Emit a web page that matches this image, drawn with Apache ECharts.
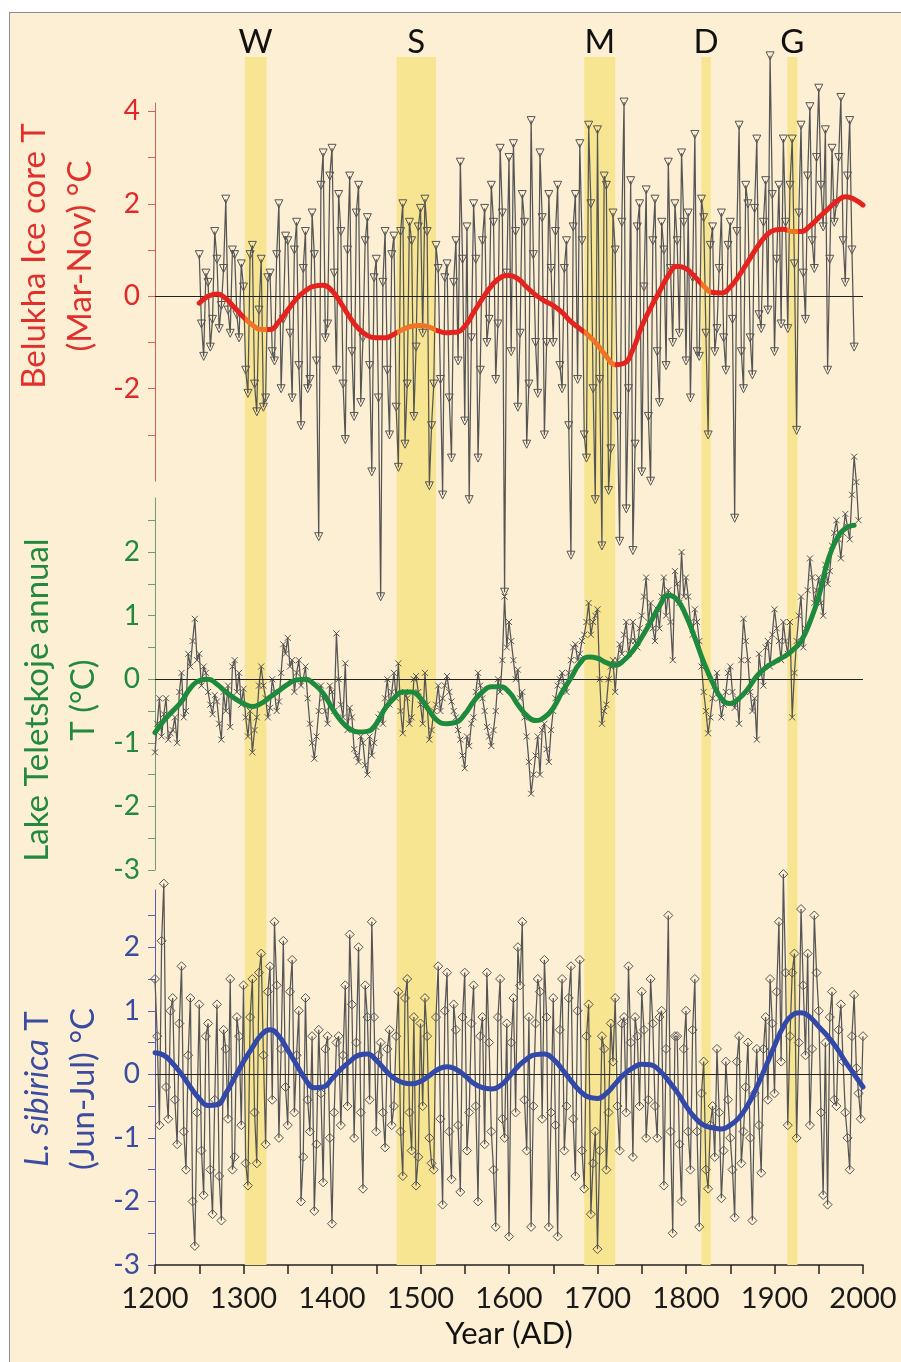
<!DOCTYPE html>
<html>
<head>
<meta charset="utf-8">
<script src="https://cdn.jsdelivr.net/npm/echarts@6/dist/echarts.min.js"></script>
<style>
html,body{margin:0;padding:0;background:#fff;}
#frame{position:absolute;left:9px;top:12px;width:892px;height:1350px;background:#FCEFD4;border-left:1.5px solid #8c8c8c;border-top:1.5px solid #8c8c8c;box-sizing:border-box;}
#chart{position:absolute;left:0;top:0;width:901px;height:1362px;}
</style>
</head>
<body>
<div id="frame"></div>
<div id="chart"></div>
<script>
// ---------- DATA ----------
// Event bands (start year, end year) and their labels
const bandLabels = ['W', 'S', 'M', 'D', 'G'];
const bandStarts = [1301.5, 1473, 1685, 1817.5, 1914.5];
const bandEnds   = [1326, 1517.5, 1720, 1828, 1926];

// Belukha ice core T (Mar-Nov): samples every 5 years from 1250 ...
const belukhaStart = 1250, belukhaStep = 5;
const belukhaValues = [
  0.9,-1.3,0.3,-0.5,0.8,-0.2,2.1,-0.8,0.9,-0.9,
  0.2,-2.1,1.1,-2.5,0.8,-2.2,0.5,-1.4,2.0,-0.5,
  1.2,-2.2,1.6,-2.8,1.4,-1.8,0.9,-5.2,3.1,-0.6,
  3.2,-1.6,1.4,-3.1,2.6,-2.6,2.4,-0.9,1.7,-3.8,
  0.8,-6.5,1.4,-3.0,1.3,-3.7,2.0,-1.9,1.2,-1.1,
  1.9,2.1,-4.1,-1.9,0.6,-4.3,0.7,-3.5,1.2,2.9,
  -2.7,-4.4,2.0,-3.5,1.2,-1.0,2.4,-1.8,3.2,-6.4,
  3.0,3.3,-2.4,2.2,-3.2,3.8,-1.0,3.1,-3.0,2.2,
  -1.0,2.4,-2.0,1.2,-5.6,2.2,3.3,-3.0,3.7,-2.0,
  3.6,-5.4,2.4,-3.3,1.0,-5.3,4.2,-2.0,-5.5,1.5,
  -3.8,2.3,-4.0,2.1,-2.3,1.0,2.9,-1.0,1.2,3.1,
  -1.4,-2.2,3.5,-1.3,1.7,-3.0,1.5,-0.7,1.8,-1.6,
  1.6,-4.8,3.7,-2.0,2.0,-1.7,3.4,-0.7,2.5,5.2,
  -1.2,2.4,3.4,-0.7,3.4,-2.9,3.7,-0.5,4.1,0.6,
  4.5,1.5,-1.6,3.2,2.0,4.3,0.3,3.8,-1.1
];
// ... and the in-between samples, every 5 years from 1252.5
const belukhaMidStart = 1252.5;
const belukhaMid = [
  -0.6,0.5,-1.1,1.4,-0.7,0.6,-0.3,1.0,-0.4,0.7,
  -1.6,0.9,-1.9,-0.3,-2.4,0.4,-1.2,0.9,-2.0,1.3,
  -0.8,1.0,-1.5,0.6,-2.0,1.8,-1.4,2.4,-0.9,2.6,
  0.5,2.2,-1.9,1.0,-1.2,1.8,-2.3,1.2,-1.5,0.4,
  -2.2,0.3,-1.6,0.9,-2.4,1.4,-3.2,1.6,-2.6,1.5,
  -0.8,1.4,-2.8,1.1,-1.8,0.4,-2.2,0.3,-1.4,0.8,
  1.5,-0.9,0.8,-1.6,1.9,-0.5,1.6,-0.6,1.8,0.5,
  -1.2,1.4,-0.8,1.6,-1.9,0.9,-2.1,1.7,-1.0,0.6,
  1.4,-1.5,0.6,-2.8,1.5,-1.8,1.2,-3.5,2.0,-4.4,
  -1.8,2.6,-4.2,1.8,-2.6,1.6,-4.6,2.5,-3.2,2.0,
  0.2,-2.6,1.2,-1.2,1.6,-1.5,0.6,2.0,-0.8,1.6,
  1.8,0.4,-1.2,2.1,-0.8,1.1,-1.2,0.6,-0.9,1.1,
  -0.5,1.4,-1.2,2.4,-0.9,1.9,-0.4,1.6,-0.3,2.2,
  0.8,-0.6,1.6,2.4,0.7,1.8,0.5,2.6,1.2,3.0,
  2.4,3.6,0.8,1.6,3.0,1.2,2.6,1.0
];
// Belukha smoothed curve, 10-year samples from 1250
const belukhaSmoothStart = 1250, belukhaSmoothStep = 10;
const belukhaSmooth = [
  -0.15,0.0,0.05,-0.05,-0.25,
  -0.45,-0.62,-0.72,-0.72,-0.55,
  -0.3,-0.05,0.12,0.22,0.24,
  0.12,-0.15,-0.45,-0.7,-0.85,
  -0.9,-0.9,-0.82,-0.72,-0.65,
  -0.63,-0.67,-0.75,-0.79,-0.78,
  -0.65,-0.35,-0.05,0.22,0.4,
  0.45,0.38,0.2,0.03,-0.1,
  -0.2,-0.35,-0.55,-0.7,-0.85,
  -1.05,-1.3,-1.48,-1.45,-1.15,
  -0.65,-0.25,0.1,0.45,0.65,
  0.6,0.42,0.22,0.08,0.07,
  0.2,0.45,0.75,1.05,1.3,
  1.43,1.45,1.4,1.4,1.52,
  1.7,1.88,2.05,2.15,2.1,
  1.97
];

// Lake Teletskoje annual T: every 5 years from 1200 ...
const teletStart = 1200, teletStep = 5;
const teletValues = [
  -1.15,-0.3,-0.55,-0.95,-0.8,-1.0,0.1,-0.5,0.2,0.95,
  0.4,0.2,-0.2,-0.55,-0.35,-0.95,-0.5,-0.75,0.3,0.1,
  -0.15,-0.9,-1.15,-0.6,0.2,-0.3,-0.45,-0.2,-0.35,0.55,
  0.65,0.3,0.1,-0.1,0.2,-0.7,-1.25,-0.5,-0.3,-0.7,
  -0.2,0.72,-0.4,0.25,-0.45,-1.1,-1.3,-1.0,-1.5,-1.2,
  -0.75,-0.55,-0.3,-0.4,0.1,0.25,-0.85,-0.3,-0.6,0.05,
  -0.4,0.1,-0.95,-0.5,-0.1,-0.3,0.05,-0.35,-0.6,-0.95,
  -1.4,-1.05,-0.6,0.1,-0.3,-0.75,-1.05,-0.5,-0.2,1.3,
  0.9,0.3,0.15,-0.2,-0.9,-1.8,-1.2,-1.5,-0.7,-1.3,
  -0.5,-0.1,0.1,-0.2,0.3,0.55,0.4,0.7,1.2,0.9,
  1.1,-0.7,-0.4,0.2,-0.2,0.55,0.7,0.4,0.9,0.5,
  1.0,1.6,1.2,0.6,0.8,1.6,1.4,0.3,1.5,2.0,
  1.6,0.9,1.1,0.6,-0.2,-0.85,-0.3,0.1,-0.6,-0.2,
  0.2,-0.45,-0.7,0.95,0.3,-0.5,-0.95,0.1,0.5,0.2,
  1.1,0.6,0.9,0.4,-0.6,0.6,1.3,0.8,1.9,1.2,
  1.6,1.0,1.5,2.1,2.5,1.9,2.6,2.2,3.5,2.5
];
// ... and in-between samples from 1202.5
const teletMidStart = 1202.5;
const teletMid = [
  -0.7,-0.9,-0.3,-0.85,-0.6,-0.2,-0.6,0.4,0.6,0.3,
  -0.1,0.1,-0.4,-0.25,-0.7,-0.2,-0.1,0.2,-0.2,-0.4,
  -0.6,-0.5,-0.8,-0.1,-0.1,-0.6,0.0,-0.5,0.1,0.4,
  0.2,-0.2,0.3,0.0,-0.3,-1.0,-0.9,-0.1,-0.5,-0.1,
  -0.5,0.0,-0.6,-0.8,-0.6,-1.2,-0.9,-1.35,-0.9,-1.0,
  -0.6,-0.7,0.0,-0.2,-0.3,-0.5,-0.2,-0.7,0.0,-0.2,
  -0.7,-0.4,-0.8,-0.4,-0.5,-0.1,-0.2,-0.5,-0.8,-1.2,
  -0.9,-0.7,-0.2,-0.1,-0.5,-0.9,-0.8,0.0,0.3,0.5,
  0.6,0.0,-0.3,-0.6,-1.3,-1.5,-0.9,-0.8,-1.1,-0.8,
  -0.3,0.0,-0.1,0.1,0.5,0.3,0.6,0.9,0.7,1.0,
  0.0,-0.5,0.0,0.3,0.3,0.4,0.9,0.6,0.6,0.8,
  1.3,0.9,0.8,1.1,1.3,1.0,0.9,1.7,1.2,1.3,
  1.3,0.7,0.9,0.2,-0.5,-0.6,-0.1,-0.3,-0.4,0.1,
  -0.2,-0.3,0.3,0.6,-0.2,-0.3,0.4,-0.1,0.6,0.7,
  0.8,0.3,0.6,0.9,0.1,1.0,0.5,1.4,1.6,1.4,
  1.2,1.8,1.7,2.3,2.2,2.3,2.4,2.9,3.1
];
const teletSmoothStart = 1200, teletSmoothStep = 10;
const teletSmooth = [
  -0.84,-0.65,-0.5,-0.35,-0.14,
  -0.02,0.0,-0.08,-0.2,-0.3,
  -0.38,-0.43,-0.38,-0.28,-0.18,
  -0.08,-0.01,0.0,-0.08,-0.22,
  -0.45,-0.65,-0.78,-0.83,-0.82,
  -0.7,-0.46,-0.3,-0.2,-0.2,
  -0.3,-0.5,-0.66,-0.7,-0.68,
  -0.55,-0.35,-0.2,-0.12,-0.12,
  -0.2,-0.4,-0.57,-0.65,-0.6,
  -0.45,-0.2,0.02,0.25,0.35,
  0.33,0.26,0.22,0.3,0.45,
  0.66,0.9,1.15,1.32,1.25,
  1.0,0.65,0.27,-0.05,-0.3,
  -0.38,-0.3,-0.15,0.05,0.18,
  0.27,0.35,0.45,0.6,0.9,
  1.3,1.85,2.2,2.37,2.42
];

// L. sibirica T (Jun-Jul): every 5 years from 1200 ...
const sibStart = 1200, sibStep = 5;
const sibValues = [
  1.5,-0.8,3.0,-0.7,1.2,-1.1,1.7,-1.5,1.2,-2.7,
  1.1,-1.9,0.8,-2.2,1.1,-2.3,0.4,1.5,-1.3,0.6,
  1.4,-1.75,1.5,-1.4,1.9,-1.1,1.7,2.4,-1.0,2.1,
  -0.8,1.8,0.3,-2.0,1.2,-0.9,-2.15,0.7,-1.7,0.6,
  -2.35,0.5,-0.8,1.4,2.2,-1.0,2.0,-1.8,0.9,2.4,
  -0.9,0.5,-1.15,0.7,-0.5,1.3,-1.6,1.5,-1.2,-1.75,
  0.8,1.2,-1.0,-1.5,1.7,-2.05,1.6,-1.65,0.7,-1.85,
  1.6,-0.6,1.4,-2.0,0.9,1.6,-0.9,-2.4,1.5,-1.0,
  -2.55,1.2,2.0,2.4,-1.2,-2.4,0.8,1.3,1.8,-2.4,
  1.2,-2.55,1.5,-0.5,1.7,-1.6,1.8,-1.8,1.1,-1.4,
  -2.75,0.6,-1.5,0.8,1.2,-1.2,0.9,1.7,-1.3,0.6,
  1.3,-1.0,1.5,-0.5,0.9,-1.75,2.5,-2.5,0.6,-2.0,
  1.0,-1.5,1.5,-2.4,0.2,-1.8,-0.5,0.4,-1.95,0.2,
  -1.0,-2.25,0.6,-0.9,0.5,-2.3,0.4,-1.55,0.9,1.5,
  -0.3,2.4,3.15,-0.8,1.6,-1.0,2.6,0.3,-0.8,2.5,
  1.0,-1.9,-2.05,1.3,-0.5,1.1,-0.6,-1.5,1.25,-0.3,0.6
];
// ... and in-between samples from 1202.5
const sibMidStart = 1202.5;
const sibMid = [
  0.6,2.1,-0.2,1.0,-0.4,0.8,-0.9,0.3,-2.0,-0.6,
  -1.2,0.6,-1.5,-0.4,-1.6,0.7,-0.7,-1.5,0.9,-0.8,
  -1.4,0.9,-0.6,1.6,0.3,1.3,-0.4,1.4,0.4,-0.2,
  1.3,-0.6,1.0,-1.3,-0.4,0.6,-1.1,-0.3,0.4,-1.0,
  -0.6,0.6,0.3,-0.5,1.1,0.5,-0.6,1.4,-0.4,0.9,
  0.3,-0.6,0.4,-0.8,0.6,-0.9,1.2,-0.6,0.9,-1.3,
  -0.5,0.6,-1.4,0.9,-0.7,1.0,-0.9,1.1,-0.8,0.9,
  -1.2,0.8,-0.5,0.6,-1.1,0.5,-1.5,0.9,-0.7,0.8,
  0.5,-0.6,1.4,-0.4,0.9,-0.5,1.5,-0.7,0.9,-0.6,
  -0.8,0.7,-1.2,1.2,-0.7,1.0,-1.2,0.6,-2.2,-0.9,
  -1.2,0.4,-0.6,0.2,-0.5,0.8,-0.6,0.5,0.9,-0.5,
  0.7,-0.4,0.8,-1.0,1.0,0.4,-0.9,0.6,-1.1,0.4,
  -0.9,0.7,-0.9,-0.3,-1.5,-0.8,-1.3,-0.6,-1.2,-0.4,
  -1.5,0.2,-1.4,-0.2,-1.0,-0.3,-0.8,0.4,-0.4,0.8,
  1.3,0.2,1.6,0.6,1.9,0.5,1.4,1.9,0.4,1.6,
  -0.6,0.5,0.9,-0.4,0.7,0.2,-1.0,0.6,0.1,-0.7
];
const sibSmoothStart = 1200, sibSmoothStep = 10;
const sibSmooth = [
  0.34,0.3,0.17,0.0,-0.2,
  -0.38,-0.49,-0.48,-0.3,-0.05,
  0.2,0.42,0.62,0.7,0.6,
  0.38,0.15,-0.08,-0.21,-0.2,
  -0.07,0.08,0.2,0.3,0.32,
  0.22,0.07,-0.06,-0.13,-0.15,
  -0.11,-0.02,0.08,0.12,0.08,
  -0.02,-0.14,-0.21,-0.23,-0.18,
  -0.04,0.12,0.24,0.31,0.32,
  0.24,0.08,-0.1,-0.26,-0.36,
  -0.38,-0.3,-0.15,0.0,0.1,
  0.16,0.15,0.06,-0.1,-0.28,
  -0.5,-0.68,-0.8,-0.84,-0.86,
  -0.8,-0.68,-0.48,-0.2,0.12,
  0.45,0.75,0.93,0.97,0.9,
  0.75,0.6,0.42,0.2,0.0,
  -0.2
];

// Axis tick values / labels
const xTickValues = [1200,1250,1300,1350,1400,1450,1500,1550,1600,1650,1700,1750,1800,1850,1900,1950,2000];
const xLabelValues = [1200,1300,1400,1500,1600,1700,1800,1900,2000];
const belukhaTicks = [-3,-2,-1,0,1,2,3,4];
const belukhaLabels = [-2,0,2,4];
const lowerTicks = [-3,-2.5,-2,-1.5,-1,-0.5,0,0.5,1,1.5,2,2.5];
const lowerLabels = [-3,-2,-1,0,1,2];

// ---------- BUILD ----------
const pairs = (start, step, vals) => vals.map((v, i) => [start + i * step, v]);
const merged = (a, b) => a.concat(b).sort((p, q) => p[0] - q[0]);
const FONT = 'Lato, "Open Sans", sans-serif';
const GRAY = '#555555';

const chart = echarts.init(document.getElementById('chart'), null, {renderer: 'canvas'});

const commonGrid = {left: 155, right: 38, containLabel: false};
const grids = [
  Object.assign({top: 103, height: 378.2}, commonGrid),
  Object.assign({top: 498, height: 372}, commonGrid),
  Object.assign({top: 890, height: 375}, commonGrid),
  Object.assign({top: 57, height: 1208}, commonGrid)
];

function hiddenX(i) {
  return {type: 'value', gridIndex: i, min: 1200, max: 2000, show: false};
}
function yAxisDef(i, min, max, ticks, labels, lineColor, labelColor) {
  return {
    type: 'value', gridIndex: i, min: min, max: max,
    axisLine: {show: true, onZero: false, lineStyle: {color: lineColor, width: 1}},
    axisTick: {show: true, inside: false, length: 7, customValues: ticks, lineStyle: {color: lineColor, width: 1}},
    axisLabel: {show: true, customValues: labels, color: labelColor, fontSize: 28, fontFamily: FONT, margin: 15,
                formatter: v => String(v)},
    splitLine: {show: false}
  };
}

const zeroLine = {
  silent: true, symbol: 'none', label: {show: false},
  lineStyle: {color: '#222', width: 1.2, type: 'solid'},
  data: [{yAxis: 0}]
};

function noisy(xi, data, symbol, size, rotate) {
  return {
    type: 'line', xAxisIndex: xi, yAxisIndex: xi, data: data, clip: false, z: 3,
    symbol: symbol, symbolSize: size, symbolRotate: rotate || 0, showAllSymbol: true,
    lineStyle: {color: GRAY, width: 1.25},
    itemStyle: {color: 'rgba(0,0,0,0)', borderColor: GRAY, borderWidth: 1},
    markLine: zeroLine, animation: false
  };
}
function smooth(xi, data, color) {
  const s = {
    type: 'line', xAxisIndex: xi, yAxisIndex: xi, data: data, clip: false, z: 5,
    smooth: 0.5, symbol: 'none',
    lineStyle: {width: 5, cap: 'round', join: 'round'}, animation: false
  };
  if (color) { s.lineStyle.color = color; s.itemStyle = {color: color}; }
  return s;
}

const bandData = bandStarts.map((s, i) => [s, bandEnds[i]]);

const option = {
  animation: false,
  grid: grids,
  xAxis: [
    hiddenX(0), hiddenX(1),
    {
      type: 'value', gridIndex: 2, min: 1200, max: 2000,
      axisLine: {show: true, onZero: false, lineStyle: {color: '#222', width: 1.5}},
      axisTick: {show: true, inside: false, length: 9, customValues: xTickValues, lineStyle: {color: '#222', width: 1.5}},
      axisLabel: {show: true, customValues: xLabelValues, color: '#1a1a1a', fontSize: 29, fontFamily: FONT, margin: 19,
                  formatter: v => String(v)},
      splitLine: {show: false},
      name: 'Year (AD)', nameLocation: 'middle', nameGap: 53,
      nameTextStyle: {color: '#111', fontSize: 31, fontFamily: FONT}
    },
    hiddenX(3)
  ],
  yAxis: [
    yAxisDef(0, -4, 4.18, belukhaTicks, belukhaLabels, '#D4605A', '#E0282A'),
    yAxisDef(1, -3, 2.85, lowerTicks, lowerLabels, '#6F9A7C', '#23893F'),
    yAxisDef(2, -3, 2.9, lowerTicks, lowerLabels, '#5B5FA6', '#3A4BA0'),
    {type: 'value', gridIndex: 3, min: 0, max: 1, show: false}
  ],
  visualMap: [{
    type: 'piecewise', show: false, seriesIndex: 2, dimension: 0,
    pieces: bandData.map(b => ({gte: b[0], lte: b[1], color: '#EF7424'})),
    outOfRange: {color: '#E4231F'}
  }],
  series: [
    {
      type: 'custom', xAxisIndex: 3, yAxisIndex: 3, z: 1, clip: false, silent: true,
      data: bandData,
      encode: {x: [0, 1]},
      renderItem: function (params, api) {
        const p0 = api.coord([api.value(0), 1]);
        const p1 = api.coord([api.value(1), 0]);
        return {
          type: 'group',
          children: [
            {type: 'rect', shape: {x: p0[0], y: p0[1], width: p1[0] - p0[0], height: p1[1] - p0[1]},
             style: {fill: '#F8E592'}},
            {type: 'text', x: (p0[0] + p1[0]) / 2, y: p0[1] - 15,
             style: {text: bandLabels[params.dataIndex], fill: '#111', font: '33px ' + FONT,
                     align: 'center', verticalAlign: 'middle'}}
          ]
        };
      }
    },
    noisy(0, merged(pairs(belukhaStart, belukhaStep, belukhaValues), pairs(belukhaMidStart, belukhaStep, belukhaMid)), 'triangle', 8, 180),
    smooth(0, pairs(belukhaSmoothStart, belukhaSmoothStep, belukhaSmooth), null),
    noisy(1, merged(pairs(teletStart, teletStep, teletValues), pairs(teletMidStart, teletStep, teletMid)), 'path://M0,0L10,10M10,0L0,10', 6, 0),
    smooth(1, pairs(teletSmoothStart, teletSmoothStep, teletSmooth), '#1E8A3E'),
    noisy(2, merged(pairs(sibStart, sibStep, sibValues), pairs(sibMidStart, sibStep, sibMid)), 'diamond', 9, 0),
    smooth(2, pairs(sibSmoothStart, sibSmoothStep, sibSmooth), '#3249AA')
  ],
  graphic: [
    {type: 'text', x: 57, y: 256, rotation: Math.PI / 2, silent: true,
     style: {text: 'Belukha Ice core T\n(Mar-Nov) °C', fill: '#E0302C', font: '33px ' + FONT,
             align: 'center', verticalAlign: 'middle', lineHeight: 46}},
    {type: 'text', x: 60, y: 700, rotation: Math.PI / 2, silent: true,
     style: {text: 'Lake Teletskoje annual\nT (°C)', fill: '#23893F', font: '33px ' + FONT,
             align: 'center', verticalAlign: 'middle', lineHeight: 46}},
    {type: 'text', x: 60, y: 1089, rotation: Math.PI / 2, silent: true,
     style: {text: '{it|L. sibirica} T\n(Jun-Jul) °C', fill: '#3A4BA0', font: '33px ' + FONT,
             align: 'center', verticalAlign: 'middle', lineHeight: 46,
             rich: {it: {fontStyle: 'italic', fontSize: 33, fontFamily: FONT, fill: '#3A4BA0', lineHeight: 46}}}}
  ]
};
chart.setOption(option);
</script>
</body>
</html>
